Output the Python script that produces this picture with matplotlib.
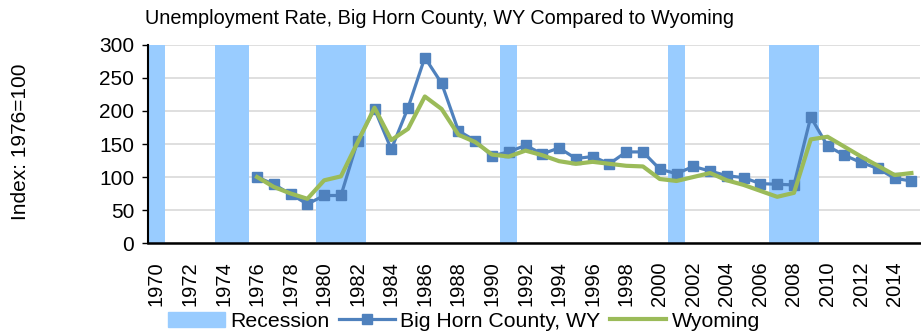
import numpy as np
import matplotlib.pyplot as plt
from matplotlib.patches import Patch

plt.rcParams['font.family'] = ['Liberation Sans', 'DejaVu Sans']

# Index values (1976 = 100)
years = list(range(1970, 2016))
recession_years = [1970, 1974, 1975, 1980, 1981, 1982, 1991, 2001, 2007, 2008, 2009]

county_years = list(range(1976, 2016))
big_horn = [100, 89, 74, 59, 72, 72, 155, 203, 142, 205,
            281, 242, 170, 155, 132, 138, 148, 135, 144, 128,
            131, 120, 138, 138, 112, 105, 116, 109, 102, 99,
            90, 89, 88, 191, 147, 133, 122, 113, 98, 94]
wyoming = [100, 85, 75, 67, 95, 101, 153, 205, 156, 173,
           222, 203, 164, 153, 134, 131, 140, 133, 124, 120,
           123, 120, 117, 116, 97, 94, 100, 106, 95, 88,
           79, 70, 76, 157, 161, 146, 131, 117, 103, 106]

x_all = np.arange(len(years))
x_cty = np.array([years.index(y) for y in county_years])
recession = [300 if y in recession_years else 0 for y in years]

fig = plt.figure(figsize=(9.21, 3.32), dpi=100)
ax = fig.add_axes([0.1607, 0.268, 0.838, 0.5965])

bars = ax.bar(x_all, recession, width=1.0, color='#99CCFF', zorder=1)
l1, = ax.plot(x_cty, big_horn, color='#4F81BD', linewidth=2.3, marker='s', markersize=6.5,
              zorder=3)
l2, = ax.plot(x_cty, wyoming, color='#9BBB59', linewidth=3, zorder=4)

ax.set_xlim(-0.5, len(years) - 0.5)
ax.set_ylim(0, 300)
ax.set_yticks(np.arange(0, 301, 50))
ax.yaxis.grid(True, color='#D9D9D9', linewidth=1.2, zorder=0)
ax.set_axisbelow(True)

ax.set_xticks(x_all[::2])
ax.set_xticklabels([str(y) for y in years[::2]], rotation=90, fontsize=14.5)
ax.tick_params(axis='x', length=0, pad=13)
ax.tick_params(axis='y', labelsize=15, length=4, width=1, pad=6)

for side in ['top', 'right']:
    ax.spines[side].set_visible(False)
ax.spines['left'].set_linewidth(1.5)
ax.spines['bottom'].set_linewidth(1.8)

fig.text(0.022, 0.572, 'Index: 1976=100', rotation=90, fontsize=15,
         ha='center', va='center')
fig.text(145 / 921, 1 - 18 / 332, 'Unemployment Rate, Big Horn County, WY Compared to Wyoming',
         fontsize=14.3, ha='left', va='center')

handles = [Patch(color='#99CCFF'), l1, l2]
labels = ['Recession', 'Big Horn County, WY', 'Wyoming']
fig.legend(handles, labels, loc='center', bbox_to_anchor=(0.504, 0.033), ncol=3,
           frameon=False, fontsize=15.3, handlelength=2.65, handletextpad=0.25,
           columnspacing=0.45, borderpad=0)

fig.savefig('out.png', dpi=100)
